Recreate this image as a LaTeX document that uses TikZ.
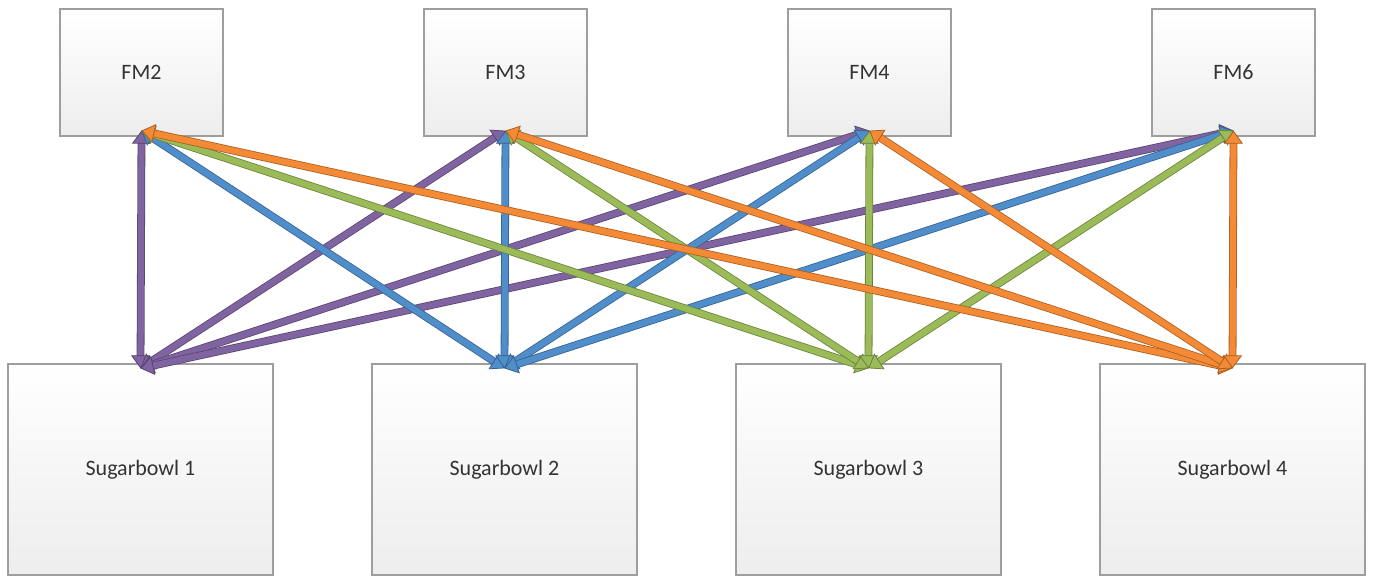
\documentclass[tikz,border=0pt]{standalone}
\usepackage{fontspec}
\setmainfont{Carlito}
\usetikzlibrary{arrows.meta}

\definecolor{sbpurple}{HTML}{8064A2}
\definecolor{sbblue}{HTML}{4F8DCB}
\definecolor{sbgreen}{HTML}{9BBB59}
\definecolor{sborange}{HTML}{F48A35}

\tikzset{
  box/.style={draw=black!38, line width=1.3pt, top color=white, bottom color=black!7,
    inner sep=0pt, text=black!80, font=\fontsize{22}{26}\selectfont},
  fmbox/.style={box, minimum width=163pt, minimum height=127pt},
  sbbox/.style={box, minimum width=265pt, minimum height=211pt},
  link/.style={draw=#1, line width=6.2pt,
    {Triangle[length=13pt, width=19pt, line width=0.8pt, color=#1!70!black, fill=#1]}-{Triangle[length=13pt, width=19pt, line width=0.8pt, color=#1!70!black, fill=#1]},
    preaction={draw=#1!70!black, line width=7.8pt, arrows=-, shorten <=10pt, shorten >=10pt}}
}

\begin{document}
\begin{tikzpicture}[x=1pt, y=-1pt]
  \useasboundingbox (0,0) rectangle (1377,578);

  % feeders
  \node[fmbox] (fm2) at (141.5,72.5) {FM2};
  \node[fmbox] (fm3) at (505.5,72.5) {FM3};
  \node[fmbox] (fm4) at (869.5,72.5) {FM4};
  \node[fmbox] (fm6) at (1233.5,72.5) {FM6};

  % sugarbowls
  \node[sbbox] (sb1) at (140.5,469.5) {Sugarbowl 1};
  \node[sbbox] (sb2) at (504.5,469.5) {Sugarbowl 2};
  \node[sbbox] (sb3) at (868.5,469.5) {Sugarbowl 3};
  \node[sbbox] (sb4) at (1232.5,469.5) {Sugarbowl 4};

  \draw[link=sbpurple] ([yshift=-5pt]sb1.north) -- ([yshift=6pt]fm2.south);
  \draw[link=sbpurple] ([yshift=-5pt]sb1.north) -- ([yshift=6pt]fm3.south);
  \draw[link=sbpurple] ([yshift=-5pt]sb1.north) -- ([yshift=6pt]fm4.south);
  \draw[link=sbpurple] ([yshift=-5pt]sb1.north) -- ([yshift=6pt]fm6.south);

  \draw[link=sbblue] ([yshift=-5pt]sb2.north) -- ([yshift=6pt]fm2.south);
  \draw[link=sbblue] ([yshift=-5pt]sb2.north) -- ([yshift=6pt]fm3.south);
  \draw[link=sbblue] ([yshift=-5pt]sb2.north) -- ([yshift=6pt]fm4.south);
  \draw[link=sbblue] ([yshift=-5pt]sb2.north) -- ([yshift=6pt]fm6.south);

  \draw[link=sbgreen] ([yshift=-5pt]sb3.north) -- ([yshift=6pt]fm2.south);
  \draw[link=sbgreen] ([yshift=-5pt]sb3.north) -- ([yshift=6pt]fm3.south);
  \draw[link=sbgreen] ([yshift=-5pt]sb3.north) -- ([yshift=6pt]fm4.south);
  \draw[link=sbgreen] ([yshift=-5pt]sb3.north) -- ([yshift=6pt]fm6.south);

  \draw[link=sborange] ([yshift=-5pt]sb4.north) -- ([yshift=6pt]fm2.south);
  \draw[link=sborange] ([yshift=-5pt]sb4.north) -- ([yshift=6pt]fm3.south);
  \draw[link=sborange] ([yshift=-5pt]sb4.north) -- ([yshift=6pt]fm4.south);
  \draw[link=sborange] ([yshift=-5pt]sb4.north) -- ([yshift=6pt]fm6.south);
\end{tikzpicture}
\end{document}
